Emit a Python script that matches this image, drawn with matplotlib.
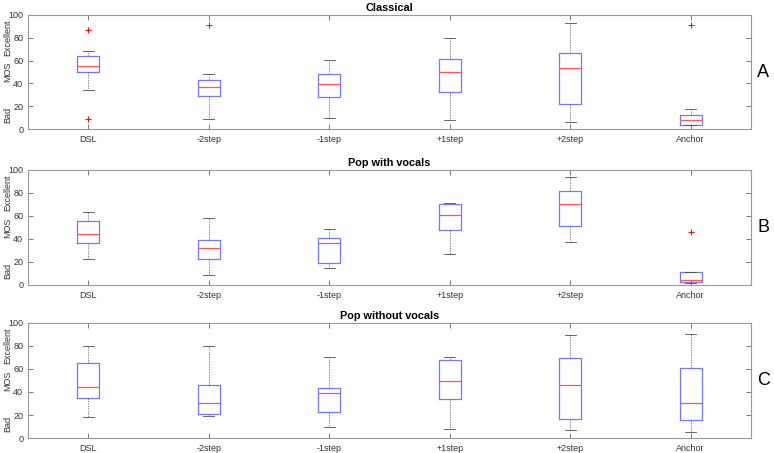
import matplotlib
matplotlib.use("Agg")
import matplotlib.pyplot as plt

plt.rcParams['font.family'] = ['Liberation Sans', 'DejaVu Sans']

categories = ["DSL", "-2step", "-1step", "+1step", "+2step", "Anchor"]
titles = ["Classical", "Pop with vocals", "Pop without vocals"]
panel_letters = ["A", "B", "C"]

# per condition: lower whisker, Q1, median, Q3, upper whisker
classical_stats = [
    [34.4, 49.9, 55.1, 63.6, 68.8],
    [8.7, 28.9, 37.0, 42.9, 48.1],
    [9.9, 28.0, 39.4, 48.1, 60.3],
    [7.6, 32.7, 49.6, 61.2, 80.2],
    [6.1, 22.2, 53.9, 66.8, 93.3],
    [3.2, 3.5, 7.9, 12.5, 17.8],
]
classical_fliers = [[86.6, 8.7], [91.0], [], [], [], [91.0]]

vocals_stats = [
    [22.8, 36.1, 44.2, 55.5, 63.6],
    [8.4, 22.8, 31.8, 39.0, 58.1],
    [14.7, 19.1, 36.1, 40.5, 48.3],
    [26.9, 48.0, 60.7, 70.2, 71.7],
    [37.3, 50.9, 70.2, 82.1, 93.9],
    [1.7, 2.6, 4.3, 11.0, 11.6],
]
vocals_fliers = [[], [], [], [], [], [45.7]]

novocals_stats = [
    [18.1, 34.4, 44.6, 65.3, 80.2],
    [19.0, 21.0, 30.6, 46.4, 80.2],
    [9.3, 22.2, 39.4, 43.4, 70.3],
    [8.2, 33.8, 49.3, 67.6, 70.0],
    [6.7, 16.3, 45.8, 69.4, 89.5],
    [5.5, 16.0, 30.3, 61.2, 90.7],
]
novocals_fliers = [[], [], [], [], [], []]

all_stats = [classical_stats, vocals_stats, novocals_stats]
all_fliers = [classical_fliers, vocals_fliers, novocals_fliers]

fig = plt.figure(figsize=(7.74, 4.53), dpi=100)
positions = [
    [0.0362, 0.7152, 0.934, 0.2517],
    [0.0362, 0.3709, 0.934, 0.2539],
    [0.0362, 0.0331, 0.934, 0.2539],
]

for p in range(3):
    ax = fig.add_axes(positions[p])
    stats = []
    for i, s in enumerate(all_stats[p]):
        stats.append({
            'whislo': s[0], 'q1': s[1], 'med': s[2], 'q3': s[3], 'whishi': s[4],
            'fliers': all_fliers[p][i], 'label': categories[i],
        })
    ax.bxp(stats, positions=range(1, 7), widths=0.18, showfliers=True,
           boxprops=dict(color='#7777ff', linewidth=0.9),
           medianprops=dict(color='#ff5555', linewidth=0.9),
           whiskerprops=dict(color='0.4', linewidth=0.6, linestyle=(0, (1.5, 1.5))),
           capprops=dict(color='0.3', linewidth=0.6),
           capwidths=0.09,
           flierprops=dict(marker='+', markeredgecolor='red', markersize=4,
                           markeredgewidth=0.7, linestyle='none', zorder=5))
    ax.set_xlim(0.5, 6.5)
    ax.set_ylim(0, 100)
    ax.set_yticks([0, 20, 40, 60, 80, 100])
    ax.tick_params(direction='in', top=True, right=True, labelsize=6.5,
                   colors='0.4', labelcolor='0.2', length=3.8, width=0.6)
    ax.tick_params(axis='x', pad=4)
    for sp in ax.spines.values():
        sp.set_color('0.6')
        sp.set_linewidth(0.8)
    ax.set_title(titles[p], fontsize=7.8, fontweight='bold', pad=3)
    ax.text(-0.028, 0.12, "Bad", transform=ax.transAxes, rotation=90,
            ha='center', va='center', fontsize=6.5, color='0.2')
    ax.text(-0.028, 0.5, "MOS", transform=ax.transAxes, rotation=90,
            ha='center', va='center', fontsize=6.5, color='0.2')
    ax.text(-0.028, 0.8, "Excellent", transform=ax.transAxes, rotation=90,
            ha='center', va='center', fontsize=6.5, color='0.2')
    ax.text(1.017, 0.5, panel_letters[p], transform=ax.transAxes,
            ha='center', va='center', fontsize=13)

fig.savefig("out.png", dpi=100)
